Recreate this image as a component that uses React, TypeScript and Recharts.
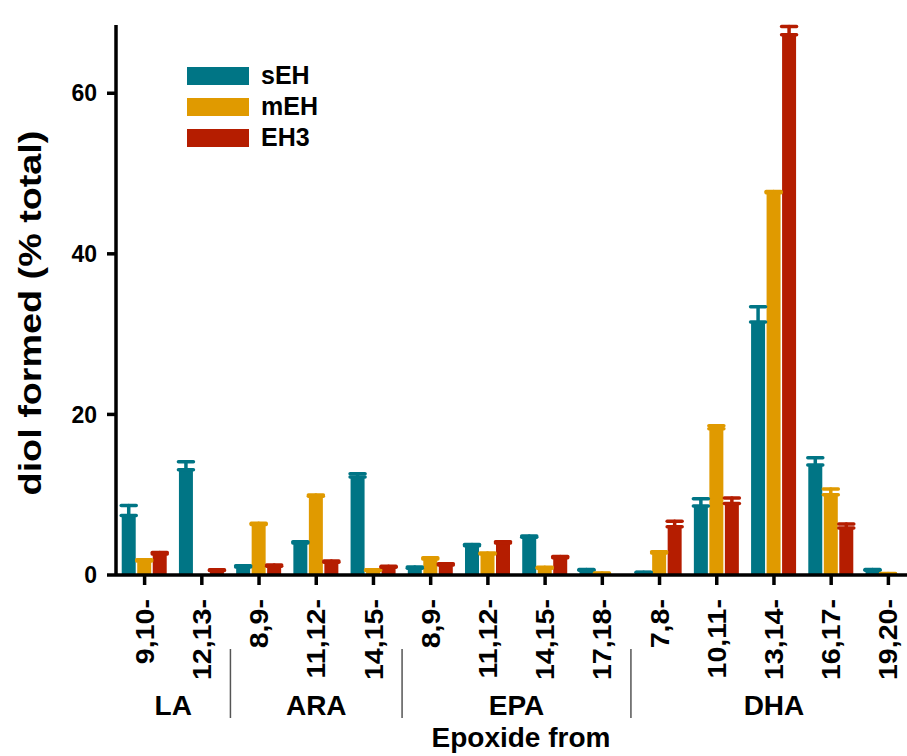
import React from 'react';
import { BarChart, Bar, XAxis, YAxis, ErrorBar, Legend, Label } from 'recharts';

const CATEGORIES = ['9,10-', '12,13-', '8,9-', '11,12-', '14,15-', '8,9-', '11,12-', '14,15-', '17,18-', '7,8-', '10,11-', '13,14-', '16,17-', '19,20-'];
const GROUPS = ['LA', 'LA', 'ARA', 'ARA', 'ARA', 'EPA', 'EPA', 'EPA', 'EPA', 'DHA', 'DHA', 'DHA', 'DHA', 'DHA'];
const SEH = [7.4, 13.1, 1.0, 4.0, 12.2, 0.85, 3.65, 4.7, 0.6, 0.3, 8.6, 31.5, 13.7, 0.6];
const SEH_ERR = [1.25, 1.0, 0.15, 0.15, 0.4, 0.15, 0.15, 0.15, 0.1, 0.05, 0.9, 1.9, 0.9, 0.1];
const MEH = [1.75, 0, 6.3, 9.8, 0.55, 2.0, 2.6, 0.85, 0.2, 2.75, 18.2, 47.6, 10.0, 0.15];
const MEH_ERR = [0.15, null, 0.15, 0.15, 0.1, 0.15, 0.15, 0.1, 0.05, 0.15, 0.4, 0.15, 0.7, 0.05];
const EH3 = [2.6, 0.55, 1.1, 1.6, 0.95, 1.25, 4.0, 2.15, 0, 6.0, 8.9, 67.3, 5.85, 0];
const EH3_ERR = [0.2, 0.1, 0.15, 0.15, 0.15, 0.15, 0.15, 0.15, null, 0.7, 0.7, 1.0, 0.5, null];
const Y_TICKS = [0, 20, 40, 60];
const SERIES = [
  { key: 'sEH', color: '#007585' },
  { key: 'mEH', color: '#E09A00' },
  { key: 'EH3', color: '#B51D00' },
];

const data = CATEGORIES.map((c, i) => ({
  key: GROUPS[i] + ' ' + c,
  label: c,
  group: GROUPS[i],
  sEH: SEH[i],
  sEHerr: SEH_ERR[i] == null ? null : [0, SEH_ERR[i]],
  mEH: MEH[i],
  mEHerr: MEH_ERR[i] == null ? null : [0, MEH_ERR[i]],
  EH3: EH3[i],
  EH3err: EH3_ERR[i] == null ? null : [0, EH3_ERR[i]],
}));

const FONT = '"Liberation Sans", Arial, Helvetica, sans-serif';
const CHART_W = 917;
const CHART_H = 756;
const Y_AXIS_W = 116;
const PLOT_W = CHART_W - Y_AXIS_W;

const CatTick = (props: any) => {
  const { x, y, payload } = props;
  const idx = props.index ?? payload.index;
  const label = CATEGORIES[idx] ?? payload.value;
  return (
    <text
      x={0}
      y={0}
      transform={`translate(${x},${y}) rotate(-90) scale(1.1,1)`}
      textAnchor="end"
      dominantBaseline="central"
      fontSize={26}
      fontWeight="bold"
      fontFamily={FONT}
      fill="#000"
    >
      {label}
    </text>
  );
};

const GroupTick = (props: any) => {
  const { x, y, payload } = props;
  const i = props.index ?? payload.index;
  const w = typeof props.width === 'number' && props.width > 0 ? props.width : PLOT_W;
  const band = w / CATEGORIES.length;
  const g = GROUPS[i];
  const first = GROUPS.indexOf(g);
  const last = GROUPS.lastIndexOf(g);
  const mid = (first + last) / 2;
  const els: any[] = [];
  if (i === first && i > 0) {
    els.push(
      <line key="sep" x1={x - band / 2} x2={x - band / 2} y1={y - 46} y2={y + 23} stroke="#555" strokeWidth={1.5} />
    );
  }
  if (i === Math.floor(mid)) {
    els.push(
      <text
        key="lbl"
        x={x + (mid - i) * band}
        y={y + 20}
        textAnchor="middle"
        fontSize={28}
        fontWeight="bold"
        fontFamily={FONT}
        fill="#000"
      >
        {g}
      </text>
    );
  }
  return <g>{els}</g>;
};

const LegendContent = () => (
  <div style={{ fontFamily: FONT }}>
    {SERIES.map((s) => (
      <div key={s.key} style={{ display: 'flex', alignItems: 'center', height: 31 }}>
        <div style={{ width: 62, height: 18, background: s.color, marginRight: 12 }} />
        <span style={{ fontSize: 25, fontWeight: 'bold', color: '#000', lineHeight: '31px' }}>{s.key}</span>
      </div>
    ))}
  </div>
);

export default function App() {
  return (
    <div style={{ width: 907, height: CHART_H, overflow: 'hidden', position: 'relative' }}>
      <style>{`html, body { margin: 0; padding: 0; overflow: hidden; }`}</style>
      <BarChart
        width={CHART_W}
        height={CHART_H}
        data={data}
        margin={{ top: 25, right: 0, left: 0, bottom: 0 }}
        barCategoryGap="10%"
        barGap={1.5}
      >
        <XAxis
          dataKey="key"
          interval={0}
          height={120}
          tick={<CatTick />}
          tickSize={10}
          tickMargin={14}
          axisLine={{ stroke: '#000', strokeWidth: 3.5 }}
          tickLine={{ stroke: '#000', strokeWidth: 3.5 }}
        />
        <XAxis
          xAxisId="grp"
          dataKey="key"
          interval={0}
          height={61}
          tick={<GroupTick />}
          tickLine={false}
          axisLine={false}
          tickSize={0}
          tickMargin={0}
        >
          <Label
            content={(p: any) => {
              const vb = p.viewBox || {};
              return (
                <text
                  x={521}
                  y={vb.y + vb.height - 9}
                  textAnchor="middle"
                  fontSize={28}
                  fontWeight="bold"
                  fontFamily={FONT}
                  fill="#000"
                >
                  Epoxide from
                </text>
              );
            }}
          />
        </XAxis>
        <YAxis
          width={Y_AXIS_W}
          domain={[0, 68.5]}
          ticks={Y_TICKS}
          tickSize={9}
          tickMargin={10}
          axisLine={{ stroke: '#000', strokeWidth: 3.5 }}
          tickLine={{ stroke: '#000', strokeWidth: 3.5 }}
          tick={{ fontSize: 23, fontWeight: 'bold', fill: '#000', fontFamily: FONT }}
        >
          <Label
            content={(p: any) => {
              const vb = p.viewBox || {};
              const cx = vb.x + 30;
              const cy = vb.y + vb.height / 2 + 13;
              return (
                <text
                  x={0}
                  y={0}
                  transform={`translate(${cx},${cy}) rotate(-90) scale(1.18,1)`}
                  textAnchor="middle"
                  dominantBaseline="central"
                  fontSize={32}
                  fontWeight="bold"
                  fontFamily={FONT}
                  fill="#000"
                >
                  diol formed (% total)
                </text>
              );
            }}
          />
        </YAxis>
        <Legend
          content={<LegendContent />}
          layout="vertical"
          verticalAlign="middle"
          align="center"
          wrapperStyle={{ left: 187, top: 60, width: 200 }}
        />
        {SERIES.map((s) => (
          <Bar key={s.key} dataKey={s.key} fill={s.color} isAnimationActive={false}>
            <ErrorBar
              dataKey={s.key + 'err'}
              direction="y"
              width={7.5}
              stroke={s.color}
              strokeWidth={3.5}
              strokeLinecap="round"
              isAnimationActive={false}
            />
          </Bar>
        ))}
      </BarChart>
    </div>
  );
}
